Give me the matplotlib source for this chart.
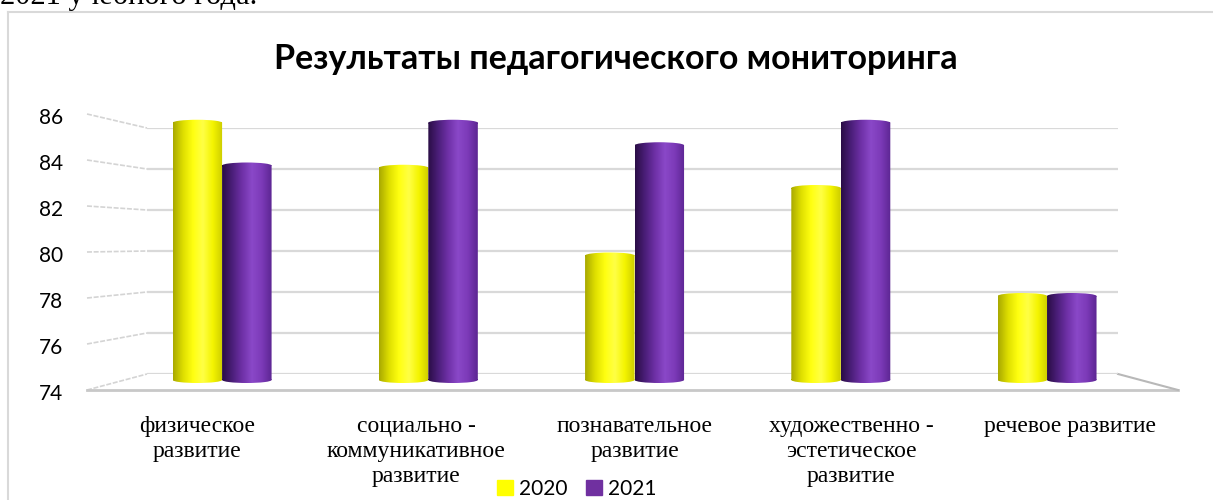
import numpy as np
import matplotlib
matplotlib.use("Agg")
import matplotlib.pyplot as plt
from matplotlib.colors import LinearSegmentedColormap
from matplotlib.patches import Ellipse, Patch, PathPatch
from matplotlib.path import Path

categories = ["физическое\nразвитие",
              "социально -\nкоммуникативное\nразвитие",
              "познавательное\nразвитие",
              "художественно -\nэстетическое\nразвитие",
              "речевое развитие"]
years = ["2020", "2021"]
values_2020 = [85.7, 83.7, 79.8, 82.8, 78.0]
values_2021 = [83.8, 85.7, 84.7, 85.7, 78.0]
y_ticks = [74, 76, 78, 80, 82, 84, 86]

W, H = 1213, 500
fig = plt.figure(figsize=(W / 100, H / 100), dpi=100)


def rect(x0, y0, x1, y1):
    # pixel box (top-left origin) -> figure fraction rect
    return [x0 / W, 1 - y1 / H, (x1 - x0) / W, (y1 - y0) / H]


sans = ["Lato", "DejaVu Sans"]
serif = ["Liberation Serif", "DejaVu Serif"]
grid_col = "#d9d9d9"

# background layer in pixel coordinates: frame, side wall, floor edges
bg = fig.add_axes([0, 0, 1, 1], zorder=0)
bg.set_xlim(0, W)
bg.set_ylim(H, 0)
bg.axis("off")
bg.plot([8, W], [12, 12], color=grid_col, lw=1.5)
bg.plot([8, 8], [12, H], color=grid_col, lw=1.5)
bg.text(0, 4, "2021 учебного года.", family=serif, fontsize=22,
        ha="left", va="baseline")
for v in y_ticks:
    y_front = 390 - (v - 74) * 23.0
    y_back = 374 - (v - 74) * 20.5
    bg.plot([87, 147], [y_front, y_back], color="#d4d4d4", lw=1.2, ls=(0, (3, 1)))
bg.plot([87, 1178], [390, 390], color="#c8c8c8", lw=2)
bg.plot([1178, 1118], [390, 374], color="#b8b8b8", lw=1.5)

# back wall with gridlines
wall = fig.add_axes(rect(147, 128, 1118, 374), zorder=1)
wall.set_ylim(74, 86)
wall.set_yticks(y_ticks)
wall.set_xticks([])
wall.tick_params(left=False, labelleft=False)
wall.grid(axis="y", color=grid_col, lw=1.6)
for s in wall.spines.values():
    s.set_visible(False)
wall.patch.set_alpha(0)

# value labels on the front edge
lab = fig.add_axes(rect(63, 116, 87, 392), zorder=1)
lab.set_ylim(74, 86)
lab.set_yticks(y_ticks)
lab.set_yticklabels([str(t) for t in y_ticks], family=sans, fontsize=15)
lab.tick_params(axis="y", length=0, pad=0)
lab.set_xticks([])
for s in lab.spines.values():
    s.set_visible(False)
lab.patch.set_alpha(0)

# bars
ax = fig.add_axes(rect(87, 113, 1178, 383), zorder=2)
slots = np.arange(len(categories))
label_x = [-0.12, 0.94, 2.0, 3.05, 4.11]
bw = 0.24
cap = 0.27

cmap_y = LinearSegmentedColormap.from_list(
    "cyl_y", ["#a8a800", "#dede00", "#ffff10", "#ffff45", "#f4f400", "#cccc00"])
cmap_p = LinearSegmentedColormap.from_list(
    "cyl_p", ["#2a0d45", "#4a1e78", "#6e30a6", "#8a48c8", "#7c3ab8", "#5c2692"])
grad = np.linspace(0, 1, 256).reshape(1, -1)

for vals, off, cm, base in [(values_2020, -bw / 2, cmap_y, "#ffff00"),
                            (values_2021, bw / 2, cmap_p, "#7030a0")]:
    xs = slots + off
    heights = [v - 74 - cap for v in vals]
    bars = ax.bar(xs, heights, bw, bottom=74 + cap / 2, color=base,
                  linewidth=0, zorder=2)
    for b, v in zip(bars, vals):
        x0 = b.get_x()
        xc = x0 + bw / 2
        top = Ellipse((xc, v - cap / 2), bw, cap)
        bot = Ellipse((xc, 74 + cap / 2), bw, cap)
        shape = Path.make_compound_path(
            b.get_path().transformed(b.get_patch_transform()),
            top.get_path().transformed(top.get_patch_transform()),
            bot.get_path().transformed(bot.get_patch_transform()))
        clip = PathPatch(shape, transform=ax.transData)
        b.set_visible(False)
        im = ax.imshow(grad, extent=[x0, x0 + bw, 74, v], cmap=cm,
                       aspect="auto", zorder=3, interpolation="bilinear")
        im.set_clip_path(clip)

ax.set_xlim(-0.655, 4.635)
ax.set_ylim(74, 86)
ax.set_yticks([])
ax.set_xticks(label_x)
ax.set_xticklabels(categories, family=serif, fontsize=17, linespacing=1.24)
ax.tick_params(axis="x", length=0, pad=24)
for s in ax.spines.values():
    s.set_visible(False)
ax.patch.set_alpha(0)

fig.text(616 / W, 1 - 59 / H, "Результаты педагогического мониторинга",
         family=sans, fontsize=24.5, fontweight="bold", ha="center", va="center")

handles = [Patch(color="#ffff00"), Patch(color="#7030a0")]
fig.legend(handles, years, loc="center", bbox_to_anchor=(577 / W, 1 - 489 / H),
           ncol=2, frameon=False, prop={"family": sans, "size": 15},
           handlelength=0.75, handleheight=0.75, handletextpad=0.3,
           columnspacing=0.9, borderpad=0, borderaxespad=0)

fig.savefig("out.png", dpi=100)
